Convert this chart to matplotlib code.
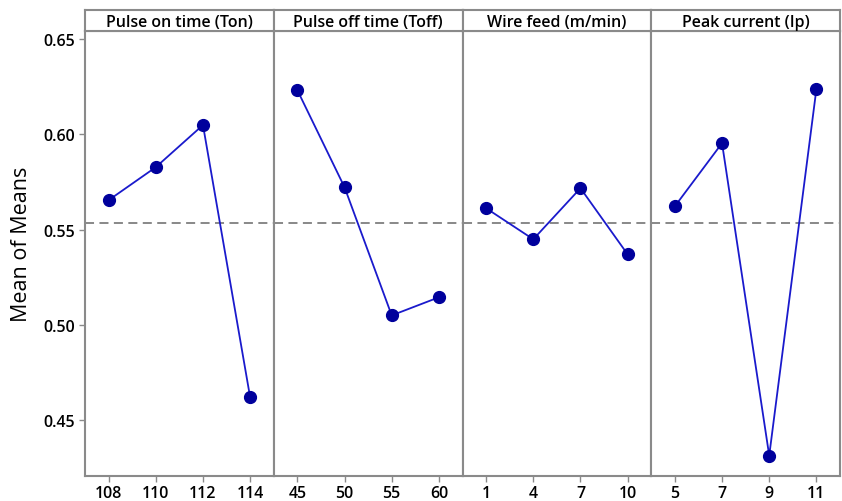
import matplotlib
matplotlib.use("Agg")
import matplotlib.pyplot as plt

factors = ["Pulse on time (Ton)", "Pulse off time (Toff)", "Wire feed (m/min)", "Peak current (Ip)"]
levels = [["108", "110", "112", "114"],
          ["45", "50", "55", "60"],
          ["1", "4", "7", "10"],
          ["5", "7", "9", "11"]]
ton_means = [0.5655, 0.5828, 0.6049, 0.4621]
toff_means = [0.6232, 0.5723, 0.5051, 0.5146]
wf_means = [0.5613, 0.5450, 0.5718, 0.5371]
ip_means = [0.5623, 0.5954, 0.4316, 0.6238]
series = [ton_means, toff_means, wf_means, ip_means]
grand_mean = 0.5534
yticks = [0.45, 0.50, 0.55, 0.60, 0.65]

plt.rcParams['font.family'] = ['Open Sans', 'DejaVu Sans']

W, H = 842, 502
fig = plt.figure(figsize=(W/100, H/100), dpi=100)

left_px, right_px = 85, 840
top_px, bottom_px = 32, 477
head_top_px = 11
pw = (right_px - left_px) / 4
grey = '#8a8a8a'

axes = []
for i in range(4):
    x0 = (left_px + i*pw) / W
    ax = fig.add_axes([x0, 1 - bottom_px/H, pw/W, (bottom_px - top_px)/H])
    hx = fig.add_axes([x0, 1 - top_px/H, pw/W, (top_px - head_top_px)/H])
    hx.set_xticks([]); hx.set_yticks([])
    for s in hx.spines.values():
        s.set_color(grey); s.set_linewidth(1.5)
    hx.text(0.5, 0.45, factors[i], ha='center', va='center', fontsize=11.5,
            fontweight='semibold', transform=hx.transAxes)

    xs = list(range(len(levels[i])))
    ax.axhline(grand_mean, color='#7f7f7f', linestyle=(0, (5, 3)), linewidth=1.3, zorder=1)
    ax.plot(xs, series[i], color='#1a1acc', linewidth=1.3, zorder=2)
    ax.plot(xs, series[i], 'o', color='#00009c', markersize=8.5, zorder=3)
    ax.set_xlim(-0.5, 3.5)
    ax.set_ylim(0.4209, 0.6542)
    ax.set_xticks(xs)
    ax.set_xticklabels(levels[i], fontsize=11.5, fontweight='semibold')
    ax.tick_params(axis='x', length=4, width=1, color=grey, pad=2.5)
    if i == 0:
        ax.set_yticks(yticks)
        ax.set_yticklabels([f"{v:.2f}" for v in yticks], fontsize=11.5, fontweight='semibold')
        ax.tick_params(axis='y', length=4, width=1, color=grey, pad=3)
    else:
        ax.set_yticks([])
    for s in ax.spines.values():
        s.set_color(grey); s.set_linewidth(1.5)
    axes.append(ax)

fig.text(22/W, 1 - 244/H, "Mean of Means", rotation=90, ha='center', va='center', fontsize=15.5)

fig.savefig("out.png", dpi=100)
